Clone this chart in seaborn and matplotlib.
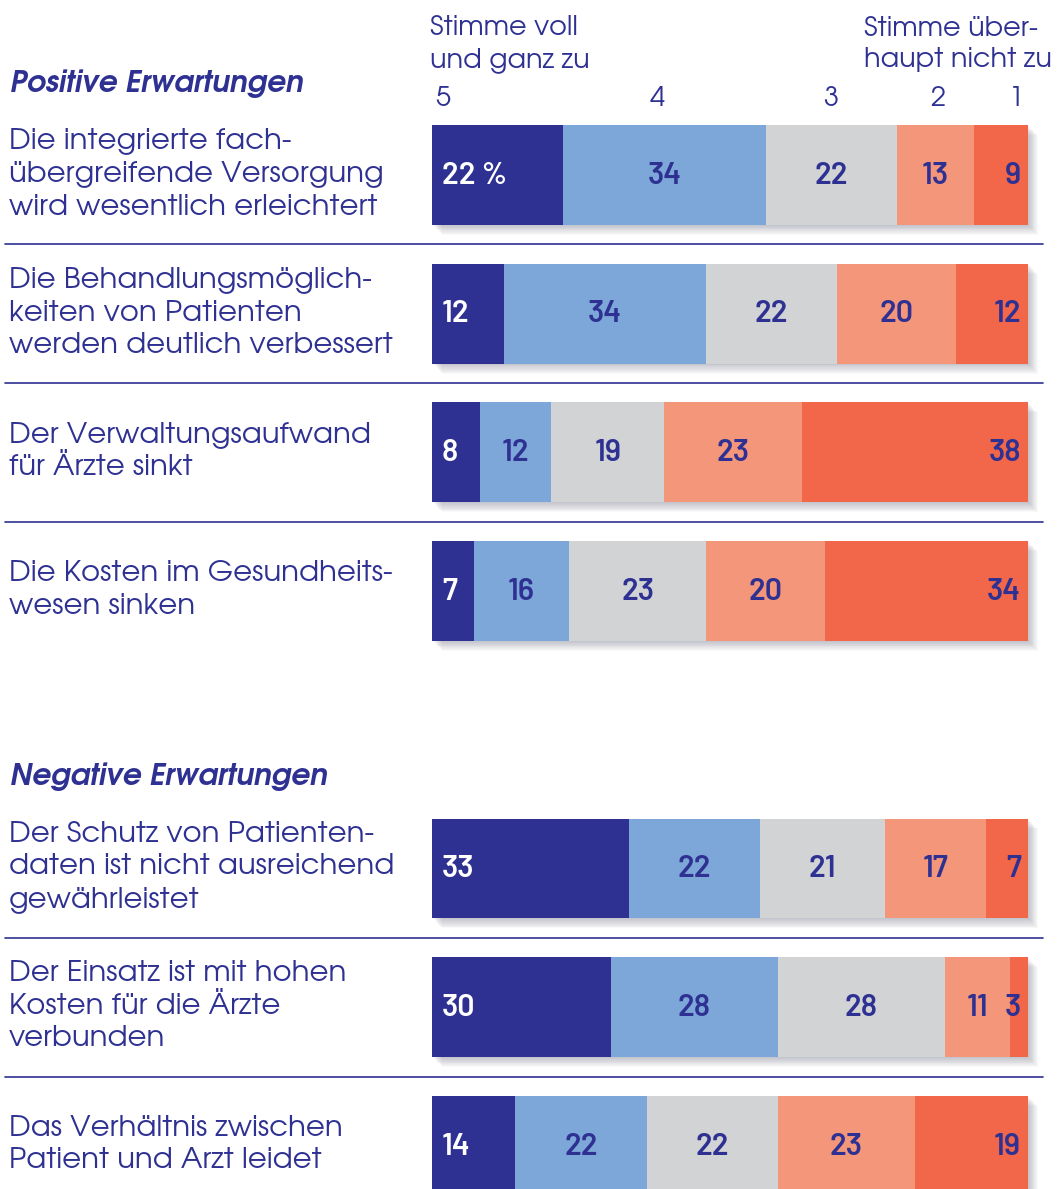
import matplotlib
matplotlib.use("Agg")
import matplotlib.pyplot as plt
from matplotlib import font_manager
from matplotlib.transforms import offset_copy, blended_transform_factory
import seaborn as sns
import pandas as pd
import numpy as np

# ---------------- data ----------------
statements = [
    "Die integrierte fach-\nübergreifende Versorgung\nwird wesentlich erleichtert",
    "Die Behandlungsmöglich-\nkeiten von Patienten\nwerden deutlich verbessert",
    "Der Verwaltungsaufwand\nfür Ärzte sinkt",
    "Die Kosten im Gesundheits-\nwesen sinken",
    "Der Schutz von Patienten-\ndaten ist nicht ausreichend\ngewährleistet",
    "Der Einsatz ist mit hohen\nKosten für die Ärzte\nverbunden",
    "Das Verhältnis zwischen\nPatient und Arzt leidet",
]
section_of = ["pos", "pos", "pos", "pos", "neg", "neg", "neg"]
section_titles = {"pos": "Positive Erwartungen", "neg": "Negative Erwartungen"}

score5 = [22, 12, 8, 7, 33, 30, 14]
score4 = [34, 34, 12, 16, 22, 28, 22]
score3 = [22, 22, 19, 23, 21, 28, 22]
score2 = [13, 20, 23, 20, 17, 11, 23]
score1 = [9, 12, 38, 34, 7, 3, 19]

scale_labels = ["5", "4", "3", "2", "1"]
left_head = "Stimme voll\nund ganz zu"
right_head = "Stimme über-\nhaupt nicht zu"

# ---------------- style ----------------
W, H = 1061, 1189
NAVY = "#2E3192"
colors = ["#2E3192", "#7DA7D8", "#D1D3D4", "#F4967A", "#F2674A"]

sns.set_theme(style="white")
avail = {f.name for f in font_manager.fontManager.ttflist}
body_font = "TeX Gyre Adventor" if "TeX Gyre Adventor" in avail else "DejaVu Sans"
num_font = "Barlow" if "Barlow" in avail else "DejaVu Sans"
plt.rcParams["font.family"] = [body_font, "DejaVu Sans"]

fig = plt.figure(figsize=(W / 100, H / 100), dpi=100)
ax = fig.add_axes([0, 0, 1, 1])

# layout: rows with a gap between the two sections
segments = [score5, score4, score3, score2, score1]
pos = []
r = 0
prev = None
for s in section_of:
    if prev is not None and s != prev:
        r += 1
    pos.append(r)
    r += 1
    prev = s
pos = np.array(pos, dtype=float)

BAR_X0, BAR_X1 = 432, 1028
PX_PER_UNIT = (BAR_X1 - BAR_X0) / 100.0
ROW0_Y, ROW_PX = 175, 138.7
BAR_H = 0.72

# soft drop shadow
for k in range(1, 12):
    tr = offset_copy(ax.transData, fig=fig, x=k * 0.9, y=-k * 0.9, units="dots")
    ax.barh(pos, [100] * len(pos), height=BAR_H, left=0, color="#1a1a40",
            alpha=0.025, transform=tr, zorder=1, linewidth=0)

# stacked bars via overlay of cumulative sums
cum = np.cumsum(np.array(segments), axis=0)
for k in range(len(segments) - 1, -1, -1):
    df = pd.DataFrame({"val": cum[k], "row": pos})
    sns.barplot(data=df, x="val", y="row", orient="h", native_scale=True,
                color=colors[k], width=BAR_H, saturation=1, linewidth=0,
                errorbar=None, ax=ax, zorder=2)

ax.set_xlim(-BAR_X0 / PX_PER_UNIT, (W - BAR_X0) / PX_PER_UNIT)
ax.set_ylim((H - ROW0_Y) / ROW_PX, -ROW0_Y / ROW_PX)
ax.axis("off")

# value labels
lab_kw = dict(fontsize=22, fontweight="semibold", family=[num_font, "DejaVu Sans"],
              va="center", zorder=5)
starts = np.vstack([np.zeros(len(pos)), cum[:-1]])
for i, y in enumerate(pos):
    yy = y + 0.005
    for k in range(5):
        v = segments[k][i]
        if k == 0:
            txt = f"{v} %" if i == 0 else f"{v}"
            ax.text(starts[k][i] + 10 / PX_PER_UNIT, yy, txt, color="white", ha="left", **lab_kw)
        elif k == 4:
            ax.text(100 - 7 / PX_PER_UNIT, yy, f"{v}", color=NAVY, ha="right", **lab_kw)
        else:
            ax.text(starts[k][i] + v / 2, yy, f"{v}", color=NAVY, ha="center", **lab_kw)

# statement labels
bt = blended_transform_factory(fig.transFigure, ax.transData)
for i, y in enumerate(pos):
    ax.text(9 / W, y - 0.012, statements[i], transform=bt, ha="left", va="center",
            fontsize=21, color=NAVY, linespacing=1.31)

# separators
for i in range(len(pos) - 1):
    if section_of[i] == section_of[i + 1]:
        yl = (pos[i] + pos[i + 1]) / 2
        ax.plot([5 / W, 1043 / W], [yl, yl], transform=bt, color=NAVY, lw=1.2, zorder=3)

# section titles
first_rows = {}
for i, s in enumerate(section_of):
    first_rows.setdefault(s, pos[i])
for s, p in first_rows.items():
    ax.text(10 / W, p - 0.66, section_titles[s], transform=bt, ha="left", va="center",
            fontsize=21.3, fontweight="bold", fontstyle="italic", color=NAVY)

# scale header
fig.text(430 / W, 1 - 44 / H, left_head, ha="left", va="center", fontsize=19.5,
         color=NAVY, linespacing=1.31)
fig.text(864 / W, 1 - 44 / H, right_head, ha="left", va="center", fontsize=19.5,
         color=NAVY, linespacing=1.31)
head_x = [443, 657, 831, 938, 1016]
for lab, hx in zip(scale_labels, head_x):
    fig.text(hx / W, 1 - 98 / H, lab, ha="center", va="center", fontsize=19.5, color=NAVY)

fig.savefig("out.png", dpi=100)
